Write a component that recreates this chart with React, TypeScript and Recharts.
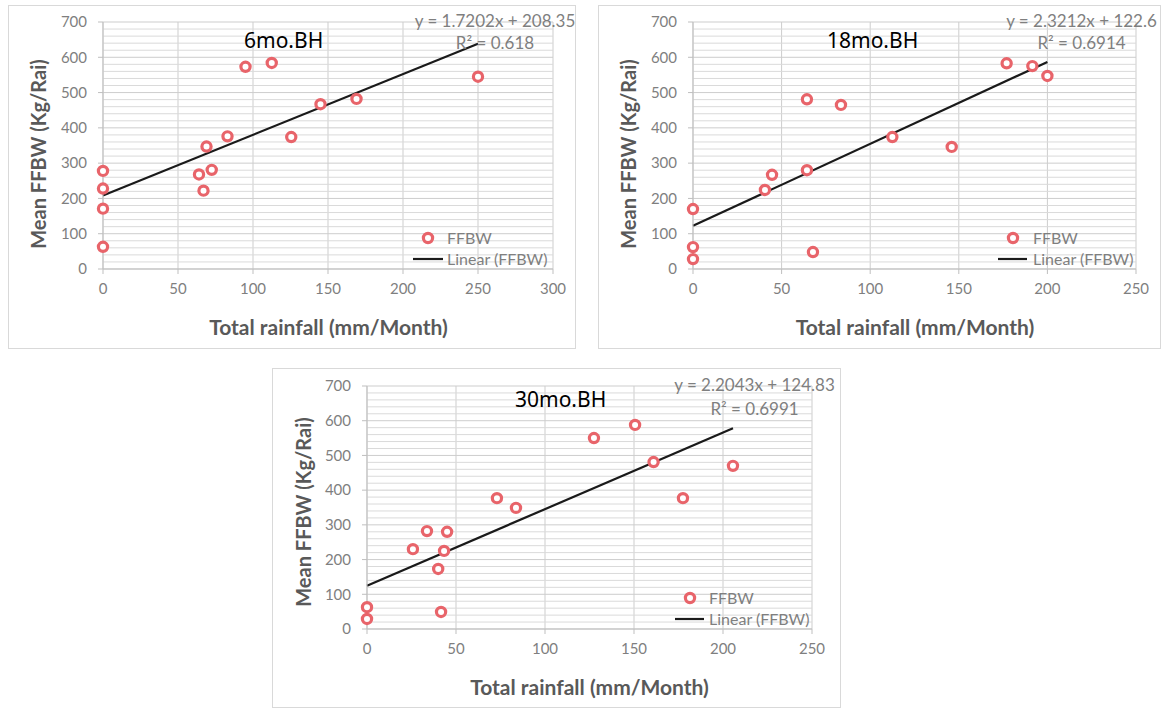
import { ScatterChart, Scatter, XAxis, YAxis, CartesianGrid, ReferenceLine } from "recharts";

// 6 months before harvest
const rain6 = [0, 0, 0, 0, 64, 67, 69, 72.5, 83, 95, 112.5, 125.5, 145, 169, 250];
const ffbw6 = [278, 228, 171, 63, 268, 222, 347, 281, 376, 573, 584, 374, 467, 482, 545];

// 18 months before harvest
const rain18 = [0, 0, 0, 40.6, 44.6, 64.3, 64.3, 67.7, 83.5, 112.5, 146, 177, 191.5, 200];
const ffbw18 = [170, 62, 28, 224, 267, 481, 280, 48, 465, 374, 346, 583, 575, 547];

// 30 months before harvest
const rain30 = [0, 0, 25.8, 33.7, 40, 41.6, 43.3, 45, 73, 83.7, 127.5, 150.6, 161, 177.5, 205.6];
const ffbw30 = [63, 29, 230, 282, 173, 49, 225, 280, 377, 349, 550, 588, 481, 377, 470];

const yTicks = [0, 100, 200, 300, 400, 500, 600, 700];
const yMinorTicks = [20, 40, 60, 80, 120, 140, 160, 180, 220, 240, 260, 280, 320, 340, 360, 380, 420, 440, 460, 480, 520, 540, 560, 580, 620, 640, 660, 680];
const xTicks300 = [0, 50, 100, 150, 200, 250, 300];
const xTicks250 = [0, 50, 100, 150, 200, 250];

const RED = "#e8646a";
const GRAY_TXT = "#7f7f7f";
const LABEL_TXT = "#595959";
const FONT = "Lato, 'Open Sans', sans-serif";

type Pt = { x: number; y: number };

type PanelProps = {
  left: number;
  top: number;
  width: number;
  height: number;
  plotTop: number;
  plotRight: number;
  xAxisH: number;
  xMax: number;
  xTicks: number[];
  rain: number[];
  ffbw: number[];
  slope: number;
  intercept: number;
  eq: string;
  r2: string;
  title: string;
  titlePos: Pt;
  eqPos: { x: number; y1: number; y2: number };
  legend: { mx: number; my: number; tx: number; lx1: number; lx2: number; ly: number };
  yLabelPos: Pt;
  xLabelPos: Pt;
};

const Ring = (props: any) => {
  const { cx, cy } = props;
  if (cx == null || cy == null) return null;
  return <circle cx={cx} cy={cy} r={4.6} fill="#fff" stroke={RED} strokeWidth={3.2} />;
};

function Panel(p: PanelProps) {
  const data = p.rain.map((x, i) => ({ x, y: p.ffbw[i] }));
  const xEnd = Math.max(...p.rain);
  const trend = [
    { x: 0, y: p.intercept },
    { x: xEnd, y: p.slope * xEnd + p.intercept },
  ];
  const tickStyle = { fill: GRAY_TXT, fontSize: 15, fontFamily: FONT };

  return (
    <div
      style={{
        position: "absolute",
        left: p.left,
        top: p.top,
        width: p.width,
        height: p.height,
        border: "1px solid #d9d9d9",
        background: "#fff",
      }}
    >
      <ScatterChart
        width={p.width}
        height={p.height}
        margin={{ top: p.plotTop, right: p.plotRight, bottom: 0, left: 0 }}
      >
        <CartesianGrid stroke="#cdcdcd" />
        {yMinorTicks.map((v) => (
          <ReferenceLine key={v} y={v} stroke="#dadada" strokeWidth={1} />
        ))}
        <XAxis
          type="number"
          dataKey="x"
          domain={[0, p.xMax]}
          ticks={p.xTicks}
          height={p.xAxisH}
          tick={tickStyle}
          tickSize={5}
          tickMargin={9}
          stroke="#bfbfbf"
        />
        <YAxis
          type="number"
          dataKey="y"
          domain={[0, 700]}
          ticks={yTicks}
          width={94}
          tick={tickStyle}
          tickSize={5}
          tickMargin={11}
          stroke="#bfbfbf"
        />
        <Scatter data={data} shape={Ring} isAnimationActive={false} />
        <ReferenceLine
          segment={trend}
          stroke="#1a1a1a"
          strokeWidth={2.2}
          ifOverflow="visible"
        />
      </ScatterChart>

      <div
        style={{
          position: "absolute",
          left: p.titlePos.x,
          top: p.titlePos.y,
          transform: "translateY(-50%)",
          fontFamily: "'Noto Sans', sans-serif",
          fontSize: 21,
          lineHeight: 1,
          color: "#000",
          whiteSpace: "nowrap",
        }}
      >
        {p.title}
      </div>

      {[
        { t: p.eq, y: p.eqPos.y1 },
        { t: p.r2, y: p.eqPos.y2 },
      ].map((e, i) => (
        <div
          key={i}
          style={{
            position: "absolute",
            left: p.eqPos.x,
            top: e.y,
            transform: "translate(-50%,-50%)",
            fontFamily: FONT,
            fontSize: 17,
            lineHeight: 1,
            color: GRAY_TXT,
            whiteSpace: "nowrap",
          }}
        >
          {e.t}
        </div>
      ))}

      <svg
        style={{ position: "absolute", left: 0, top: 0, overflow: "visible", pointerEvents: "none" }}
        width={p.width}
        height={p.height}
      >
        <circle cx={p.legend.mx} cy={p.legend.my} r={4.6} fill="#fff" stroke={RED} strokeWidth={3.2} />
        <line
          x1={p.legend.lx1}
          x2={p.legend.lx2}
          y1={p.legend.ly}
          y2={p.legend.ly}
          stroke="#1a1a1a"
          strokeWidth={2.2}
        />
      </svg>
      {[
        { t: "FFBW", y: p.legend.my },
        { t: "Linear (FFBW)", y: p.legend.ly },
      ].map((e, i) => (
        <div
          key={i}
          style={{
            position: "absolute",
            left: p.legend.tx,
            top: e.y,
            transform: "translateY(-50%)",
            fontFamily: FONT,
            fontSize: 16,
            lineHeight: 1,
            color: GRAY_TXT,
            whiteSpace: "nowrap",
          }}
        >
          {e.t}
        </div>
      ))}

      <div
        style={{
          position: "absolute",
          left: p.yLabelPos.x,
          top: p.yLabelPos.y,
          transform: "translate(-50%,-50%) rotate(-90deg)",
          fontFamily: FONT,
          fontWeight: 700,
          fontSize: 20,
          lineHeight: 1,
          color: LABEL_TXT,
          whiteSpace: "nowrap",
        }}
      >
        Mean FFBW (Kg/Rai)
      </div>
      <div
        style={{
          position: "absolute",
          left: p.xLabelPos.x,
          top: p.xLabelPos.y,
          transform: "translate(-50%,-50%)",
          fontFamily: FONT,
          fontWeight: 700,
          fontSize: 21,
          lineHeight: 1,
          color: LABEL_TXT,
          whiteSpace: "nowrap",
        }}
      >
        Total rainfall (mm/Month)
      </div>
    </div>
  );
}

export default function App() {
  return (
    <div style={{ position: "absolute", left: 0, top: 0, width: 1163, height: 708, background: "#fff" }}>
      <Panel
        left={8}
        top={5}
        width={566}
        height={342}
        plotTop={16}
        plotRight={22}
        xAxisH={79}
        xMax={300}
        xTicks={xTicks300}
        rain={rain6}
        ffbw={ffbw6}
        slope={1.7202}
        intercept={208.35}
        eq="y = 1.7202x + 208.35"
        r2="R² = 0.618"
        title="6mo.BH"
        titlePos={{ x: 235, y: 33.5 }}
        eqPos={{ x: 486, y1: 14, y2: 36 }}
        legend={{ mx: 419, my: 232, tx: 438, lx1: 404, lx2: 434, ly: 253 }}
        yLabelPos={{ x: 28.5, y: 148 }}
        xLabelPos={{ x: 319.5, y: 320 }}
      />
      <Panel
        left={598}
        top={5}
        width={561}
        height={342}
        plotTop={16}
        plotRight={24}
        xAxisH={79}
        xMax={250}
        xTicks={xTicks250}
        rain={rain18}
        ffbw={ffbw18}
        slope={2.3212}
        intercept={122.6}
        eq="y = 2.3212x + 122.6"
        r2="R² = 0.6914"
        title="18mo.BH"
        titlePos={{ x: 228, y: 33.5 }}
        eqPos={{ x: 482.5, y1: 14, y2: 36 }}
        legend={{ mx: 414, my: 232, tx: 434, lx1: 399, lx2: 428, ly: 253 }}
        yLabelPos={{ x: 28.5, y: 148 }}
        xLabelPos={{ x: 316, y: 320 }}
      />
      <Panel
        left={272}
        top={368}
        width={567}
        height={338}
        plotTop={17}
        plotRight={28}
        xAxisH={78}
        xMax={250}
        xTicks={xTicks250}
        rain={rain30}
        ffbw={ffbw30}
        slope={2.2043}
        intercept={124.83}
        eq="y = 2.2043x + 124.83"
        r2="R² = 0.6991"
        title="30mo.BH"
        titlePos={{ x: 242, y: 30 }}
        eqPos={{ x: 481.5, y1: 14.5, y2: 38.5 }}
        legend={{ mx: 417, my: 229, tx: 436, lx1: 402, lx2: 431, ly: 250 }}
        yLabelPos={{ x: 29.5, y: 143 }}
        xLabelPos={{ x: 316.5, y: 317 }}
      />
    </div>
  );
}
